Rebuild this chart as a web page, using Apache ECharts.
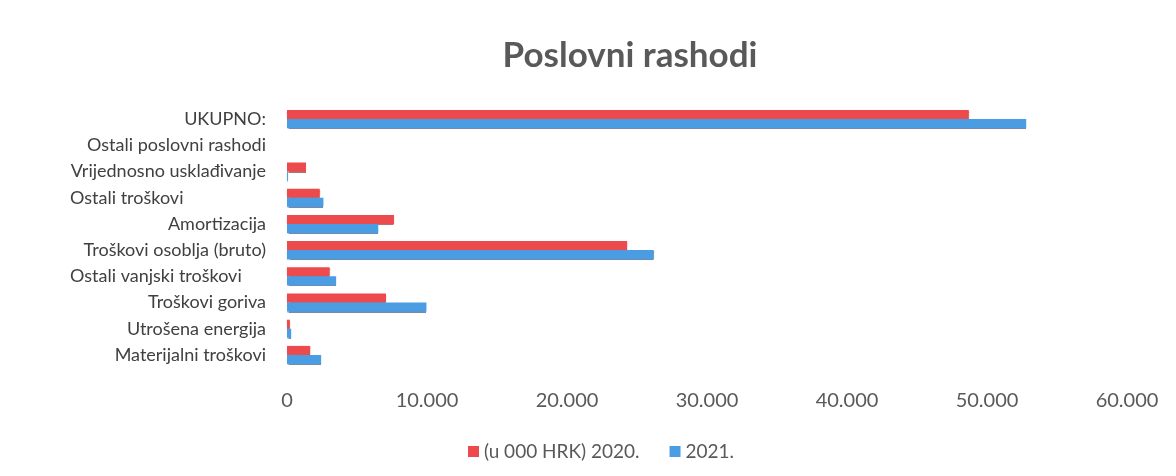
<!DOCTYPE html>
<html>
<head>
<meta charset="utf-8">
<script src="https://cdn.jsdelivr.net/npm/echarts@6/dist/echarts.min.js"></script>
<style>
  html, body { margin: 0; padding: 0; background: #fff; }
  #chart { width: 1176px; height: 476px; }
</style>
</head>
<body>
<div id="chart"></div>
<script>
// kategorije odozdo prema gore
const categories = [
  "Materijalni troškovi",
  "Utrošena energija",
  "Troškovi goriva",
  "Ostali vanjski troškovi",
  "Troškovi osoblja (bruto)",
  "Amortizacija",
  "Ostali troškovi",
  "Vrijednosno usklađivanje",
  "Ostali poslovni rashodi",
  "UKUPNO:"
];
const values2020 = [1660, 200, 7070, 3040, 24300, 7640, 2340, 1360, 0, 48700];
const values2021 = [2440, 300, 9960, 3510, 26200, 6520, 2600, 60, 0, 52800];
const name2020 = "(u 000 HRK) 2020.";
const name2021 = "2021.";
// ove dvije oznake su u originalu poravnate lijevo
const leftLabels = ["Ostali troškovi", "Ostali vanjski troškovi"];

const font = "Lato, 'Open Sans', sans-serif";
const catSize = 18;

// sirina najduze oznake, da lijevo poravnate pocnu na istom mjestu
const ctx = document.createElement("canvas").getContext("2d");
ctx.font = catSize + "px " + font;
const maxW = Math.ceil(Math.max(...categories.map((c) => ctx.measureText(c).width)));

let myChart = echarts.init(document.getElementById("chart"));

let option = {
  animation: false,
  title: {
    text: "Poslovni rashodi",
    left: 625,
    textAlign: "center",
    top: 33,
    textStyle: { fontFamily: font, fontSize: 35, fontWeight: "bold", color: "#595959" }
  },
  legend: {
    data: [name2020, name2021],
    left: 463,
    top: 437,
    icon: "rect",
    itemWidth: 11,
    itemHeight: 11,
    itemGap: 30,
    textStyle: { fontFamily: font, fontSize: 19, color: "#595959" }
  },
  grid: { left: 287, right: 49, top: 106, bottom: 108, containLabel: false },
  xAxis: {
    type: "value",
    min: 0,
    max: 60000,
    interval: 10000,
    axisLine: { show: false },
    axisTick: { show: false },
    splitLine: { show: false },
    axisLabel: {
      margin: 23,
      fontFamily: font,
      fontSize: 20,
      color: "#595959",
      formatter: (v) => v.toLocaleString("de-DE")
    }
  },
  yAxis: {
    type: "category",
    data: categories,
    axisLine: { show: false },
    axisTick: { show: false },
    axisLabel: {
      margin: 21,
      fontFamily: font,
      fontSize: catSize,
      color: "#404040",
      formatter: (v) => leftLabels.indexOf(v) >= 0 ? "{l|" + v + "}" : v,
      rich: {
        l: { width: maxW, align: "left", fontFamily: font, fontSize: catSize, color: "#404040" }
      }
    }
  },
  series: [
    {
      name: name2020,
      type: "bar",
      data: values2020,
      barWidth: 9,
      barGap: "0%",
      itemStyle: {
        color: "#ec4a4d",
        shadowColor: "rgba(120, 20, 20, 0.6)",
        shadowBlur: 1,
        shadowOffsetY: 1
      }
    },
    {
      name: name2021,
      type: "bar",
      data: values2021,
      barWidth: 9,
      barGap: "0%",
      itemStyle: {
        color: "#4a9de2",
        shadowColor: "rgba(20, 60, 120, 0.6)",
        shadowBlur: 1,
        shadowOffsetY: 1
      }
    }
  ]
};

myChart.setOption(option);
</script>
</body>
</html>
